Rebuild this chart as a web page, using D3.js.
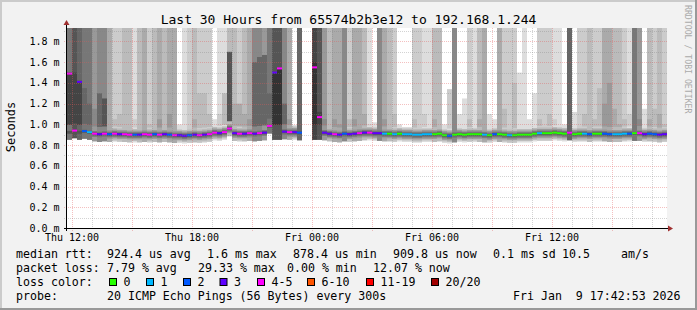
<!DOCTYPE html>
<html><head><meta charset="utf-8">
<script src="https://cdn.jsdelivr.net/npm/d3@7"></script>
<style>
html,body{margin:0;padding:0;background:#f2f2f2;}
svg{display:block;}
text{font-family:"DejaVu Sans Mono",monospace;white-space:pre;}
</style>
</head><body>
<svg id="c" width="697" height="310"></svg>
<script>
// ---------------- data ----------------
const title = "Last 30 Hours from 65574b2b3e12 to 192.168.1.244";
const yAxisTitle = "Seconds";
const sideText = "RRDTOOL / TOBI OETIKER";
const startTime = new Date(2026, 0, 8, 11, 45);   // Thu 11:45
const spanHours = 30;
const binMinutes = 15;
const yMaxMs = 1.93;
const yTickValues = [0, 0.2, 0.4, 0.6, 0.8, 1.0, 1.2, 1.4, 1.6, 1.8];

// median rtt per 15-min bin (ms)
const medianMs = [
 1.49,0.94,1.41,0.935,0.925,0.91,0.905,0.91,0.905,0.91,
 0.905,0.905,0.90,0.90,0.90,0.905,0.90,0.905,0.90,0.905,
 0.90,0.895,0.895,0.89,0.895,0.90,0.895,0.90,0.905,0.92,
 0.915,0.925,0.96,0.915,0.91,0.91,0.915,0.91,0.915,0.92,
 0.985,1.50,1.54,0.93,0.925,0.925,0.92,null,null,1.55,
 1.07,0.92,0.91,0.905,0.90,0.91,0.905,0.91,0.915,0.92,
 0.92,0.915,0.915,0.91,0.91,0.905,0.91,0.905,0.905,0.90,
 0.90,0.905,0.905,0.905,0.91,0.895,0.89,0.90,0.905,0.90,
 0.905,0.905,0.905,0.90,0.895,0.905,0.905,0.90,0.895,0.895,
 0.90,0.90,0.90,0.91,0.915,0.915,0.915,0.92,0.915,0.91,
 0.92,0.905,0.91,0.91,0.905,0.91,0.91,0.91,0.905,0.905,
 0.905,0.91,0.91,0.915,0.915,0.905,0.91,0.905,0.90,0.905
];
// lost pings (of 20) per bin
const lossCount = [
 4,4,3,2,1,4,3,4,2,4,
 3,4,4,2,3,4,4,2,4,3,
 2,4,3,3,2,3,4,3,4,4,
 3,4,4,3,4,3,4,3,4,3,
 4,3,4,3,4,3,2,null,null,4,
 4,3,3,4,3,2,3,3,4,3,
 4,3,3,1,0,1,0,1,1,1,
 1,1,1,0,0,0,2,0,0,0,
 0,0,0,1,0,2,0,0,1,0,
 0,0,0,0,1,0,0,0,0,0,
 5,0,0,1,2,0,0,2,2,1,
 1,1,2,0,4,3,2,2,3,3
];
// pings per bin that exceed the top of the graph
const farCount = [
 7,9,8,7,7,5,6,6,4,2,
 2,3,3,1,3,4,2,3,4,3,
 4,4,0,1,2,3,2,2,2,0,
 1,1,3,3,2,3,4,6,6,5,
 7,9,9,6,4,0,8,null,null,10,
 9,5,3,4,4,6,2,4,4,3,
 1,0,6,4,3,2,0,0,0,2,
 2,1,1,3,3,0,0,6,0,0,
 2,1,3,4,0,0,4,2,2,2,
 0,1,0,0,2,2,2,1,1,0,
 8,0,2,2,3,2,2,4,4,3,
 3,2,1,7,5,0,3,2,3,2
];
// upper-middle ping value per bin (ms) and how many pings reach it
const midMs = [
 1.50,1.50,1.42,1.35,1.20,1.15,1.30,1.25,0,1.05,
 1.10,0,0,1.05,0,0,1.00,0,1.05,0,
 1.10,0,1.00,0,0,1.05,1.30,1.30,1.10,1.05,
 1.10,1.30,1.70,1.20,1.20,1.10,1.05,1.60,1.65,1.67,
 1.30,1.50,1.54,1.20,1.05,0,0,0,0,1.60,
 1.12,1.05,0,1.05,1.00,0,1.05,1.05,0,1.10,
 1.00,1.02,0,1.05,0,1.10,1.00,0,0,1.05,
 0,1.10,0,1.05,0,1.00,1.34,0,1.10,1.25,
 1.05,0,1.05,0,1.10,1.05,0,1.15,0,1.40,
 1.50,0,1.05,1.30,1.05,0,1.10,1.05,0,1.00,
 0,1.12,0,1.10,0,1.05,1.35,1.20,1.40,1.15,
 1.00,1.05,1.10,0,1.05,1.15,1.05,1.15,1.10,1.00
];
const midCount = [
 10,10,10,8,8,6,8,9,0,3,
 3,0,0,2,0,0,3,0,5,0,
 5,0,1,0,0,4,3,3,3,1,
 2,3,9,4,4,4,5,8,8,8,
 8,11,11,8,5,0,0,0,0,11,
 10,6,0,5,5,0,3,5,0,4,
 2,1,0,5,0,3,1,0,0,3,
 0,2,0,4,0,1,2,0,1,1,
 3,0,4,0,1,1,0,3,0,3,
 1,0,1,1,3,0,3,2,0,1,
 0,1,0,3,0,3,3,5,5,4,
 4,3,2,0,6,1,4,3,4,3
];

const statLabels = ["median rtt:", "packet loss:", "loss color:", "probe:"];
const rttStats = ["924.4 us avg", "1.6 ms max", "878.4 us min", "909.8 us now", "0.1 ms sd", "10.5", "am/s"];
const lossStats = ["7.79 % avg", "29.33 % max", "0.00 % min", "12.07 % now"];
const lossLabels = ["0", "1", "2", "3", "4-5", "6-10", "11-19", "20/20"];
const lossUpper = [0, 1, 2, 3, 5, 10, 19, 20];
const lossColors = ["#26ff00", "#00b8ff", "#0059ff", "#5e00ff", "#ff00ff", "#ff5500", "#ff0000", "#a10000"];
const probeText = "20 ICMP Echo Pings (56 Bytes) every 300s";
const stampText = "Fri Jan  9 17:42:53 2026";

// ---------------- layout ----------------
const W = 697, H = 310;
const PL = 67, PR = 667, PT = 28, PB = 228;
const svg = d3.select("#c");

svg.append("rect").attr("width", W).attr("height", H).attr("fill", "#f2f2f2");
svg.append("rect").attr("x", 0).attr("y", 0).attr("width", W).attr("height", 2).attr("fill", "#cbcbcb");
svg.append("rect").attr("x", 0).attr("y", 0).attr("width", 2).attr("height", H).attr("fill", "#cbcbcb");
svg.append("rect").attr("x", 0).attr("y", H - 2).attr("width", W).attr("height", 2).attr("fill", "#999999");
svg.append("rect").attr("x", W - 2).attr("y", 0).attr("width", 2).attr("height", H).attr("fill", "#999999");

const endTime = d3.timeHour.offset(startTime, spanHours);
const x = d3.scaleTime().domain([startTime, endTime]).range([PL, PR]);
const y = d3.scaleLinear().domain([0, yMaxMs]).range([PB, PT]);
const gray = l => { const v = Math.max(0, Math.min(255, 238 - 17 * l)); return d3.rgb(v, v, v).formatHex(); };
const lossColor = n => lossColors[lossUpper.findIndex(u => n <= u)];

svg.append("rect").attr("x", PL).attr("y", PT).attr("width", PR - PL).attr("height", PB - PT).attr("fill", "#ffffff");
svg.append("defs").append("clipPath").attr("id", "plot")
  .append("rect").attr("x", PL).attr("y", PT).attr("width", PR - PL).attr("height", PB - PT);

const bins = medianMs.map((m, i) => ({
  t0: d3.timeMinute.offset(startTime, i * binMinutes),
  t1: d3.timeMinute.offset(startTime, (i + 1) * binMinutes),
  median: m, loss: lossCount[i], far: farCount[i], midMs: midMs[i], midCount: midCount[i]
})).filter(d => d.median != null);

const g = svg.append("g").attr("clip-path", "url(#plot)");
const bw = d => x(d.t1) - x(d.t0);
const center = d => d.median > 1.0 ? 0.925 : d.median;

g.selectAll("rect.far").data(bins.filter(d => d.far > 0)).join("rect")
  .attr("x", d => x(d.t0)).attr("width", bw)
  .attr("y", PT).attr("height", d => y(center(d)) - PT)
  .attr("fill", d => gray(d.far));
g.selectAll("rect.mid").data(bins.filter(d => d.midCount > 0 && d.midMs > center(d))).join("rect")
  .attr("x", d => x(d.t0)).attr("width", bw)
  .attr("y", d => y(d.midMs)).attr("height", d => y(center(d)) - y(d.midMs))
  .attr("fill", d => gray(Math.max(d.midCount, d.far)));
const bands = [[-0.075, 0.07, 1], [-0.06, 0.055, 3], [-0.045, 0.04, 5], [-0.03, 0.025, 7], [-0.015, 0.012, 9]];
bands.forEach(([lo, hi, lvl]) => {
  g.append("g").selectAll("rect").data(bins).join("rect")
    .attr("x", d => x(d.t0)).attr("width", bw)
    .attr("y", d => y(center(d) + hi)).attr("height", d => y(center(d) + lo) - y(center(d) + hi))
    .attr("fill", d => gray(Math.max(lvl, d.far)));
});

// grid
const majorStroke = "rgba(225,90,90,0.38)", minorStroke = "rgba(130,130,130,0.35)";
const grid = svg.append("g");
d3.range(1, Math.floor(yMaxMs * 10) + 1).forEach(k => {
  const v = k / 10, major = k % 2 === 0;
  grid.append("line").attr("x1", PL - 3).attr("x2", PR).attr("y1", Math.round(y(v)) + 0.5).attr("y2", Math.round(y(v)) + 0.5)
    .attr("stroke", major ? majorStroke : minorStroke).attr("stroke-dasharray", "1,1");
});
d3.timeHour.range(d3.timeHour.ceil(startTime), endTime).forEach(t => {
  const major = t.getHours() % 3 === 0;
  const xx = Math.round(x(t)) + 0.5;
  grid.append("line").attr("x1", xx).attr("x2", xx).attr("y1", PT).attr("y2", PB + (major ? 3 : 2))
    .attr("stroke", major ? majorStroke : minorStroke).attr("stroke-dasharray", "1,1");
});

// median line
g.selectAll("rect.med").data(bins).join("rect")
  .attr("x", d => x(d.t0)).attr("width", bw)
  .attr("y", d => y(d.median) - 1).attr("height", 2)
  .attr("fill", d => lossColor(d.loss));

// axes
svg.append("line").attr("x1", PL - 3).attr("x2", PR + 2).attr("y1", PB + 0.5).attr("y2", PB + 0.5).attr("stroke", "#000");
svg.append("line").attr("x1", PL - 0.5).attr("x2", PL - 0.5).attr("y1", PB + 3).attr("y2", PT - 4).attr("stroke", "#000");
svg.append("path").attr("d", `M${PR + 1},${PB - 2.5} L${PR + 6},${PB + 0.5} L${PR + 1},${PB + 3.5} Z`).attr("fill", "#a03030");
svg.append("path").attr("d", `M${PL - 3.5},${PT - 3} L${PL - 0.5},${PT - 8} L${PL + 2.5},${PT - 3} Z`).attr("fill", "#a03030");

svg.append("g").selectAll("text").data(yTickValues).join("text")
  .attr("x", 59.5).attr("y", v => y(v) + 3.5).attr("text-anchor", "end")
  .attr("font-size", "10px").attr("fill", "#000").text(v => v.toFixed(1) + " m");
const labelTimes = d3.timeHour.every(6).range(startTime, endTime);
svg.append("g").selectAll("text").data(labelTimes).join("text")
  .attr("x", t => x(t)).attr("y", 241).attr("text-anchor", "middle")
  .attr("font-size", "10px").attr("fill", "#000").text(d3.timeFormat("%a %H:%M"));

svg.append("text").attr("x", 348.5).attr("y", 24).attr("text-anchor", "middle")
  .attr("font-size", "13px").attr("fill", "#000").text(title);
svg.append("text").attr("transform", "translate(15,127) rotate(-90)").attr("text-anchor", "middle")
  .attr("font-size", "12px").attr("fill", "#000").text(yAxisTitle);
svg.append("text").attr("transform", "translate(685,5) rotate(90)").attr("text-anchor", "start")
  .attr("font-size", "8.2px").attr("fill", "#aaaaaa").text(sideText);

const lg = svg.append("g").attr("font-size", "11.6px").attr("fill", "#000");
const rowY = [258, 272, 286, 300];
statLabels.forEach((s, i) => lg.append("text").attr("x", 16).attr("y", rowY[i]).text(s));
const rttX = [107, 207, 293, 393, 493, 562, 621];
rttStats.forEach((s, i) => lg.append("text").attr("x", rttX[i]).attr("y", rowY[0]).text(s));
const lossX = [107, 198, 287, 373];
lossStats.forEach((s, i) => lg.append("text").attr("x", lossX[i]).attr("y", rowY[1]).text(s));
const boxX = [109, 146, 183, 219.5, 257, 307, 366, 431];
lossLabels.forEach((s, i) => {
  lg.append("rect").attr("x", boxX[i] + 0.5).attr("y", 278.5).attr("width", 7).attr("height", 7)
    .attr("fill", lossColors[i]).attr("stroke", "#000");
  lg.append("text").attr("x", boxX[i] + 14.5).attr("y", rowY[2]).text(s);
});
lg.append("text").attr("x", 107).attr("y", rowY[3]).text(probeText);
lg.append("text").attr("x", 513).attr("y", rowY[3]).text(stampText);
</script>
</body></html>
